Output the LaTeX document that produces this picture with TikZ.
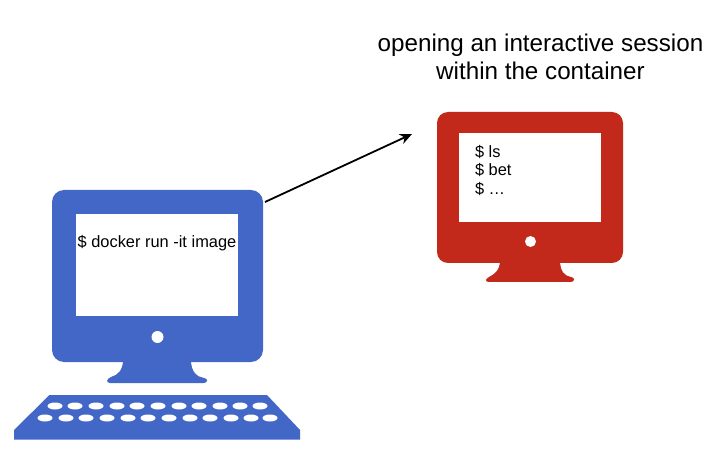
\documentclass[tikz,border=0pt]{standalone}
\usepackage{fontspec}
\setmainfont{Liberation Sans}
\definecolor{pcblue}{HTML}{4267C7}
\definecolor{pcred}{HTML}{C2291A}
\tikzset{
  body/.style={rectangle,rounded corners=#1,inner sep=0pt,outer sep=0pt,minimum width=0pt},
  screen/.style={rectangle,fill=white,inner sep=0pt,outer sep=0pt},
  termtext/.style={inner sep=0pt,outer sep=0pt,text=black,font=\fontsize{16.4}{18.6}\selectfont,align=left},
  titletext/.style={inner sep=0pt,outer sep=0pt,text=black,font=\fontsize{24.2}{28}\selectfont,align=center},
  key/.style={fill=white,draw=none},
  link/.style={draw=black,line width=1.8pt,-{Stealth[length=12pt,width=10.5pt]}}
}
\usetikzlibrary{arrows.meta}
\begin{document}
\begin{tikzpicture}[x=1pt,y=-1pt]
\useasboundingbox (0,0) rectangle (726,465);
% blue stand
\fill[pcblue] (123,360) .. controls (123,370) and (118,375) .. (111,377)
  .. controls (106,379) and (106,383) .. (110,383) -- (204,383)
  .. controls (208,383) and (208,378) .. (204,378)
  .. controls (197,377) and (191,372) .. (191,360) -- cycle;
% blue monitor
\node[body=12pt,fill=pcblue,minimum width=211pt,minimum height=172pt,anchor=north west] (bluepc) at (52,190) {};
\node[screen,minimum width=162pt,minimum height=101pt,anchor=north west] (bluescreen) at (76,214.5) {};
\node[termtext,anchor=center] (bluecmd) at (157,243.5) {\$ docker run -it image};
\fill[white] (157.5,337) circle (6);
% keyboard
\fill[pcblue] (49.5,395) -- (267,395) -- (300,430) -- (300,439.5) -- (14,439.5) -- (14,430) -- cycle;
\foreach \kx in {55,75,96,117,137,158,179,199,220,240,260}
  \fill[key] (\kx,406) ellipse (7.5 and 3.5);
\foreach \kx in {45,66,86,107,128,148,169,190,210,231,251,270}
  \fill[key] (\kx,418) ellipse (7.5 and 3.5);
% red stand
\fill[pcred] (500,260) .. controls (500,270) and (495,274) .. (489,277)
  .. controls (485,279) and (485,282) .. (489,282) -- (571,282)
  .. controls (575,282) and (575,277) .. (571,277)
  .. controls (565,276) and (560,272) .. (560,260) -- cycle;
% red monitor
\node[body=11pt,fill=pcred,minimum width=186pt,minimum height=151pt,anchor=north west] (redpc) at (437,112) {};
\node[screen,minimum width=142pt,minimum height=89pt,anchor=north west] (redscreen) at (459,133) {};
\node[termtext,anchor=north west] (redcmd) at (475,145) {\$ ls\\\$ bet\\\$ …};
\fill[white] (530.5,241.5) circle (5.5);
% title
\node[titletext] (title) at (540.5,57) {opening an interactive session\\within the container};
% arrow
\coordinate (from) at (265,202);
\coordinate (to) at (412,134);
\draw[link] (from) -- (to);
\end{tikzpicture}
\end{document}
